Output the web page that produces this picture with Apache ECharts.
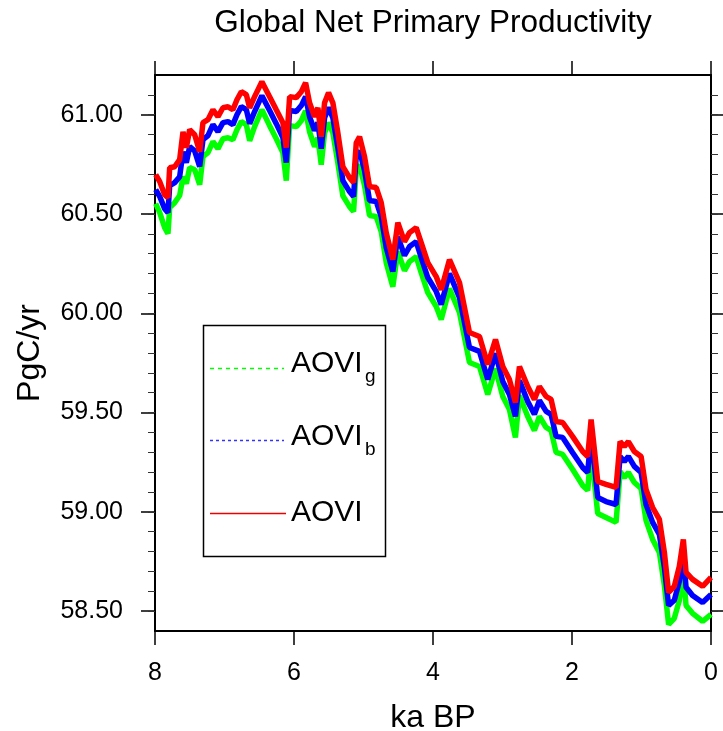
<!DOCTYPE html>
<html>
<head>
<meta charset="utf-8">
<script src="https://cdn.jsdelivr.net/npm/echarts@6/dist/echarts.min.js"></script>
<style>
html,body{margin:0;padding:0;background:#fff;}
#chart{width:723px;height:731px;}
</style>
</head>
<body>
<div id="chart"></div>
<script>
// time axis, ka BP
const ka = [7.990,7.932,7.861,7.813,7.789,7.717,7.645,7.597,7.549,7.501,7.429,7.357,7.310,7.238,7.166,7.094,7.022,6.950,6.879,6.821,6.758,6.686,6.638,6.567,6.462,6.351,6.255,6.160,6.111,6.063,5.967,5.895,5.833,5.776,5.704,5.656,5.608,5.560,5.503,5.441,5.369,5.297,5.201,5.143,5.104,5.057,4.985,4.913,4.817,4.745,4.673,4.578,4.506,4.410,4.338,4.242,4.170,4.075,3.954,3.882,3.763,3.619,3.475,3.331,3.212,3.101,2.996,2.900,2.814,2.756,2.637,2.541,2.469,2.372,2.301,2.229,2.134,1.990,1.846,1.774,1.725,1.678,1.630,1.510,1.366,1.308,1.247,1.189,1.103,1.006,0.935,0.840,0.743,0.671,0.610,0.528,0.456,0.398,0.359,0.265,0.121,0.000];
// AOVI (red)
const aovi = [60.698,60.663,60.597,60.582,60.733,60.738,60.774,60.914,60.834,60.925,60.899,60.814,60.960,60.975,61.025,60.990,61.035,61.040,61.025,61.075,61.116,61.101,61.035,61.091,61.166,61.091,61.025,60.960,60.834,61.091,61.086,61.116,61.161,61.060,60.990,61.035,60.889,61.060,61.111,61.060,60.909,60.738,60.683,60.658,60.859,60.889,60.789,60.638,60.633,60.557,60.406,60.270,60.456,60.361,60.406,60.431,60.356,60.255,60.185,60.119,60.270,60.155,59.903,59.883,59.742,59.868,59.732,59.666,59.551,59.732,59.631,59.566,59.631,59.581,59.566,59.455,59.450,59.379,59.304,59.279,59.465,59.314,59.153,59.138,59.123,59.354,59.329,59.354,59.304,59.279,59.113,59.022,58.962,58.796,58.594,58.625,58.725,58.861,58.695,58.660,58.625,58.670];
// AOVI_b (blue)
const aoviB = [60.623,60.588,60.527,60.507,60.642,60.658,60.688,60.813,60.759,60.839,60.818,60.739,60.874,60.895,60.950,60.915,60.960,60.965,60.950,61.000,61.041,61.026,60.955,61.016,61.096,61.021,60.955,60.885,60.759,61.021,61.016,61.046,61.091,60.990,60.920,60.960,60.829,60.985,61.036,60.985,60.834,60.668,60.613,60.588,60.794,60.819,60.719,60.568,60.563,60.487,60.331,60.210,60.386,60.291,60.336,60.361,60.281,60.180,60.110,60.044,60.200,60.080,59.828,59.808,59.667,59.798,59.657,59.591,59.481,59.662,59.556,59.491,59.561,59.506,59.491,59.380,59.375,59.298,59.223,59.198,59.395,59.239,59.072,59.052,59.037,59.279,59.254,59.279,59.229,59.198,59.038,58.947,58.887,58.721,58.529,58.555,58.650,58.786,58.620,58.579,58.544,58.584];
// AOVI_g (green)
const aoviG = [60.552,60.507,60.431,60.401,60.532,60.557,60.593,60.688,60.653,60.734,60.723,60.648,60.789,60.809,60.864,60.829,60.879,60.884,60.874,60.924,60.965,60.950,60.869,60.940,61.025,60.945,60.879,60.809,60.668,60.945,60.940,60.970,61.020,60.914,60.839,60.884,60.748,60.909,60.960,60.909,60.758,60.592,60.537,60.512,60.723,60.748,60.643,60.492,60.487,60.411,60.255,60.134,60.310,60.215,60.260,60.285,60.205,60.104,60.034,59.968,60.124,60.004,59.752,59.732,59.591,59.722,59.581,59.515,59.375,59.586,59.480,59.410,59.480,59.425,59.410,59.299,59.289,59.213,59.133,59.108,59.314,59.153,58.992,58.972,58.947,59.203,59.173,59.198,59.148,59.118,58.957,58.861,58.796,58.630,58.433,58.464,58.554,58.700,58.529,58.489,58.449,58.484];

const yMajorTicks = [58.5,59.0,59.5,60.0,60.5,61.0];
const yMinorTicks = [58.5,58.6,58.7,58.8,58.9,59.0,59.1,59.2,59.3,59.4,59.5,59.6,59.7,59.8,59.9,60.0,60.1,60.2,60.3,60.4,60.5,60.6,60.7,60.8,60.9,61.0,61.1];
const xTickLabels = [0,2,4,6,8];

const FONT = 'Liberation Sans';
const pair = arr => ka.map((k, i) => [k, arr[i]]);

const chart = echarts.init(document.getElementById('chart'), null, {renderer: 'canvas'});

const axisLine = {show: true, onZero: false, lineStyle: {color: '#000', width: 2}};
const yBase = {type: 'value', min: 58.4, max: 61.2, splitLine: {show: false}, axisLine: axisLine};
const xBase = {type: 'value', min: 0, max: 8, interval: 2, inverse: true, splitLine: {show: false}, axisLine: axisLine};

chart.setOption({
  animation: false,
  backgroundColor: '#fff',
  grid: {left: 155, right: 12, top: 75, bottom: 100, containLabel: false},
  xAxis: [
    Object.assign({}, xBase, {
      position: 'bottom',
      axisTick: {show: true, length: 14, lineStyle: {color: '#000', width: 1.5}},
      axisLabel: {show: true, margin: 30, fontSize: 25, fontFamily: FONT, color: '#000',
        customValues: xTickLabels}
    }),
    Object.assign({}, xBase, {
      position: 'top',
      axisTick: {show: true, length: 14, lineStyle: {color: '#000', width: 1.5}},
      axisLabel: {show: false}
    })
  ],
  yAxis: [
    Object.assign({}, yBase, {
      position: 'left',
      axisTick: {show: true, length: 14, customValues: yMajorTicks, lineStyle: {color: '#000', width: 1.5}},
      axisLabel: {show: true, margin: 32, fontSize: 25, fontFamily: FONT, color: '#000',
        customValues: yMajorTicks, formatter: v => v.toFixed(2)}
    }),
    Object.assign({}, yBase, {
      position: 'left',
      axisLine: {show: false, onZero: false},
      axisTick: {show: true, length: 7, customValues: yMinorTicks, lineStyle: {color: '#333', width: 1}},
      axisLabel: {show: false}
    }),
    Object.assign({}, yBase, {
      position: 'right',
      axisTick: {show: true, length: 14, customValues: yMajorTicks, lineStyle: {color: '#000', width: 1.5}},
      axisLabel: {show: false}
    }),
    Object.assign({}, yBase, {
      position: 'right',
      axisLine: {show: false, onZero: false},
      axisTick: {show: true, length: 7, customValues: yMinorTicks, lineStyle: {color: '#333', width: 1}},
      axisLabel: {show: false}
    })
  ],
  series: [
    {name: 'AOVI_g', type: 'line', xAxisIndex: 0, yAxisIndex: 0, data: pair(aoviG), showSymbol: false,
      lineStyle: {color: '#00ff00', width: 5.5}, z: 2},
    {name: 'AOVI_b', type: 'line', xAxisIndex: 0, yAxisIndex: 0, data: pair(aoviB), showSymbol: false,
      lineStyle: {color: '#0000ff', width: 5.5}, z: 3},
    {name: 'AOVI', type: 'line', xAxisIndex: 0, yAxisIndex: 0, data: pair(aovi), showSymbol: false,
      lineStyle: {color: '#ff0000', width: 5.5}, z: 4}
  ],
  graphic: [
    {type: 'text', x: 433, y: 23, style: {text: 'Global Net Primary Productivity', fontSize: 31.5, fontFamily: FONT, fill: '#000', align: 'center', verticalAlign: 'middle'}},
    {type: 'text', x: 433, y: 718, style: {text: 'ka BP', fontSize: 32, fontFamily: FONT, fill: '#000', align: 'center', verticalAlign: 'middle'}},
    {type: 'text', x: 30, y: 353, rotation: Math.PI / 2, style: {text: 'PgC/yr', fontSize: 32, fontFamily: FONT, fill: '#000', align: 'center', verticalAlign: 'middle'}},
    {type: 'rect', shape: {x: 203.5, y: 325.5, width: 182, height: 231}, style: {fill: '#fff', stroke: '#000', lineWidth: 1.5}, z: 10},
    {type: 'line', shape: {x1: 210, y1: 368.5, x2: 284, y2: 368.5}, style: {stroke: '#00ff00', lineWidth: 1.5, lineDash: [4, 4]}, z: 11},
    {type: 'line', shape: {x1: 210, y1: 440.5, x2: 284, y2: 440.5}, style: {stroke: '#3333ff', lineWidth: 1.5, lineDash: [3, 3]}, z: 11},
    {type: 'line', shape: {x1: 210, y1: 513.5, x2: 286, y2: 513.5}, style: {stroke: '#ee0000', lineWidth: 1.5}, z: 11},
    {type: 'text', x: 291, y: 364, style: {text: 'AOVI', fontSize: 30, fontFamily: FONT, fill: '#000', align: 'left', verticalAlign: 'middle'}, z: 11},
    {type: 'text', x: 365, y: 377, style: {text: 'g', fontSize: 19, fontFamily: FONT, fill: '#000', align: 'left', verticalAlign: 'middle'}, z: 11},
    {type: 'text', x: 291, y: 436.5, style: {text: 'AOVI', fontSize: 30, fontFamily: FONT, fill: '#000', align: 'left', verticalAlign: 'middle'}, z: 11},
    {type: 'text', x: 365, y: 450, style: {text: 'b', fontSize: 19, fontFamily: FONT, fill: '#000', align: 'left', verticalAlign: 'middle'}, z: 11},
    {type: 'text', x: 291, y: 513, style: {text: 'AOVI', fontSize: 30, fontFamily: FONT, fill: '#000', align: 'left', verticalAlign: 'middle'}, z: 11}
  ]
});
</script>
</body>
</html>
